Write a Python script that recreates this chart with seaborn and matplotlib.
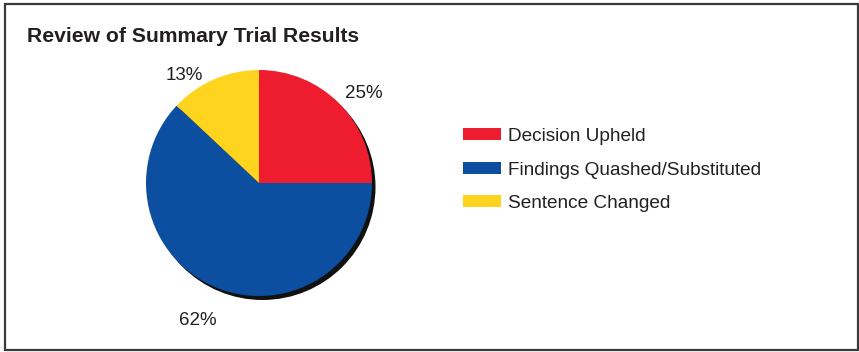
import numpy as np
import matplotlib
matplotlib.use("Agg")
import matplotlib.pyplot as plt
from matplotlib.patches import Rectangle, Circle
import seaborn as sns

# Review outcomes (percent of summary trials)
categories = ["Decision Upheld", "Findings Quashed/Substituted", "Sentence Changed"]
shares = [25, 62, 13]
palette = ["#ED1C2E", "#0C4EA0", "#FED41E"]
label_dist = [1.10, 1.27, 1.07]
label_turn = [1.0, 4.3, 4.0]   # degrees added to each label's mid angle

sns.set_theme(style="white")
plt.rcParams["font.family"] = ["Liberation Sans", "DejaVu Sans"]
text_color = "#231F20"

W, H = 859, 352
fig = plt.figure(figsize=(W / 100, H / 100), dpi=100)
fig.patch.set_facecolor("white")

# outer frame
fig.patches.append(Rectangle((5 / W, 2 / H), 853 / W, 346 / H,
                             transform=fig.transFigure, fill=False,
                             edgecolor="#3a3a3a", linewidth=1.6, zorder=10))

fig.text(27 / W, 1 - 37 / H, "Review of Summary Trial Results",
         fontsize=15.2, fontweight="bold", color=text_color,
         ha="left", va="center")

# pie axes: centre (259, 183) px, radius 113 px
cx, cy, r = 259, 183, 113
ax = fig.add_axes([(cx - r) / W, (H - cy - r) / H, 2 * r / W, 2 * r / H])
ax.axis("off")

# drop shadow under the pie
ax.add_patch(Circle((3.5 / r, -4 / r), 1.0, facecolor="#111111",
                    edgecolor="none", zorder=0, clip_on=False))

labels = [f"{v}%" for v in shares]
wedges, texts = ax.pie(shares, colors=palette, startangle=90, counterclock=False,
                       labels=labels, labeldistance=1.1, radius=1.0,
                       wedgeprops=dict(linewidth=0, clip_on=False),
                       textprops=dict(fontsize=13.5, color=text_color))
ax.set_xlim(-1, 1)
ax.set_ylim(-1, 1)
for w, t, d, dt in zip(wedges, texts, label_dist, label_turn):
    th = np.deg2rad((w.theta1 + w.theta2) / 2 + dt)
    t.set_position((d * np.cos(th), d * np.sin(th)))
    t.set_ha("left" if np.cos(th) > 0 else "right")
    t.set_va("center")

fig.legend(wedges, categories, loc="upper left",
           bbox_to_anchor=(463 / W, 1 - 128 / H), frameon=False,
           fontsize=13.7, handlelength=2.0, handleheight=0.58,
           handletextpad=0.37, labelspacing=0.87, borderpad=0,
           borderaxespad=0, labelcolor=text_color)

fig.savefig("out.png", dpi=100)
